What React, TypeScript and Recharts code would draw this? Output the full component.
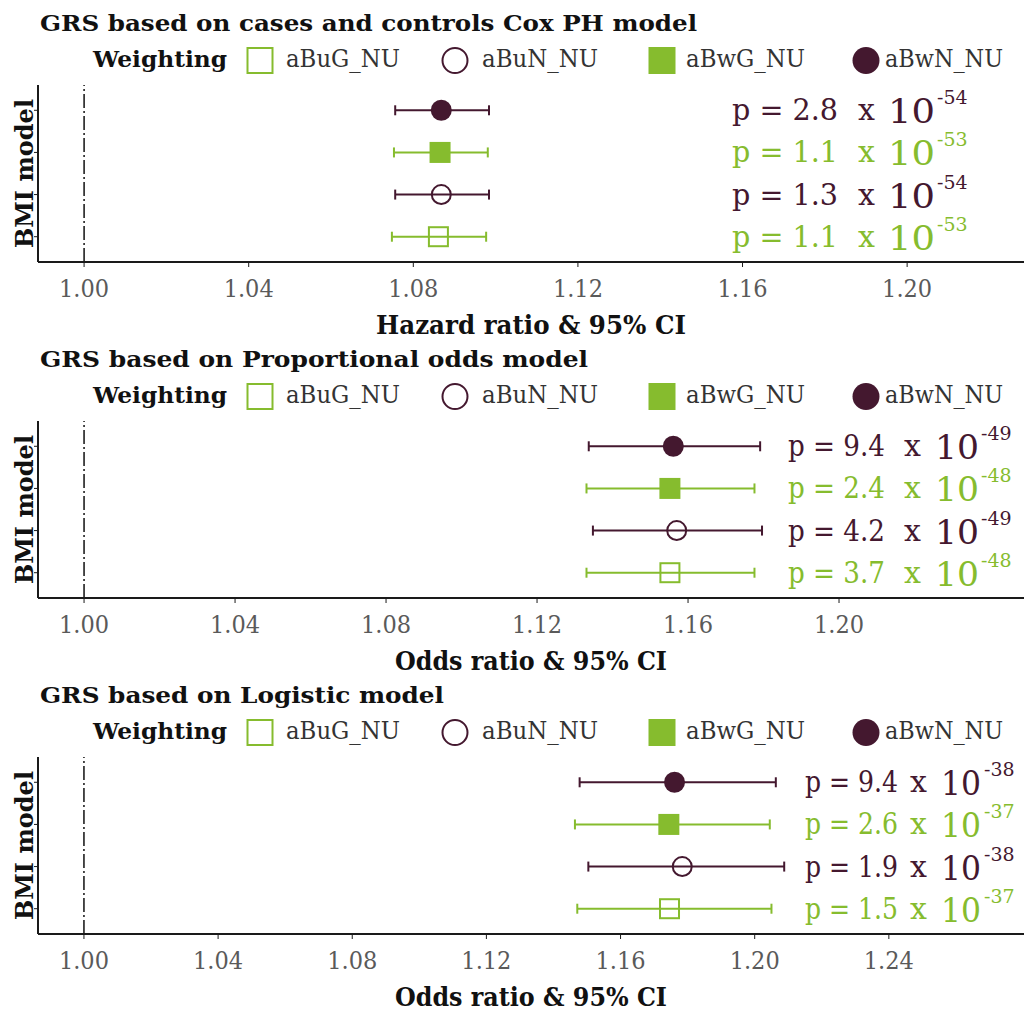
import React from 'react'
import {
  ScatterChart,
  Scatter,
  XAxis,
  YAxis,
  ErrorBar,
  ReferenceLine,
  Label,
} from 'recharts'

const PURPLE = '#44182f'
const GREEN = '#86bc2e'
const AXIS = '#1a1a1a'
const SERIF = "'DejaVu Serif', serif"
const SERIF_NARROW = "'DejaVu Serif Condensed', 'DejaVu Serif', serif"

// weighting schemes, bottom row first
const schemes = ['aBuG_NU', 'aBuN_NU', 'aBwG_NU', 'aBwN_NU']
const schemeColor = [GREEN, PURPLE, GREEN, PURPLE]
const schemeShape = ['square', 'circle', 'square', 'circle']
const schemeFilled = [false, false, true, true]

// GRS from the Cox PH model (hazard ratios)
const coxHr = [1.0861, 1.0868, 1.0865, 1.0868]
const coxLow = [1.0748, 1.0756, 1.0753, 1.0756]
const coxHigh = [1.0977, 1.0984, 1.0981, 1.0984]
const coxP = ['1.1', '1.3', '1.1', '2.8']
const coxExp = ['-53', '-54', '-53', '-54']
const coxTicks = [1.0, 1.04, 1.08, 1.12, 1.16, 1.2]

// GRS from the proportional odds model (odds ratios)
const poOr = [1.1552, 1.157, 1.1552, 1.1561]
const poLow = [1.1331, 1.1348, 1.1331, 1.1337]
const poHigh = [1.1776, 1.1796, 1.1776, 1.1791]
const poP = ['3.7', '4.2', '2.4', '9.4']
const poExp = ['-48', '-49', '-48', '-49']
const poTicks = [1.0, 1.04, 1.08, 1.12, 1.16, 1.2]

// GRS from the logistic model (odds ratios)
const logOr = [1.1746, 1.1784, 1.1744, 1.1761]
const logLow = [1.1471, 1.1504, 1.1464, 1.1478]
const logHigh = [1.205, 1.2088, 1.2045, 1.2063]
const logP = ['1.5', '1.9', '2.6', '9.4']
const logExp = ['-37', '-38', '-37', '-38']
const logTicks = [1.0, 1.04, 1.08, 1.12, 1.16, 1.2, 1.24]

type PanelDef = {
  title: string
  titleW: number
  axisTitle: string
  axisTitleW: number
  est: number[]
  low: number[]
  high: number[]
  p: string[]
  exp: string[]
  ticks: number[]
  domain: [number, number]
  // p-value text layout: start and width of "p = m", "x", start and width of "10", exponent
  pPos: number[]
}

const panels: PanelDef[] = [
  {
    title: 'GRS based on cases and controls Cox PH model',
    titleW: 657,
    axisTitle: 'Hazard ratio & 95% CI',
    axisTitleW: 310,
    est: coxHr, low: coxLow, high: coxHigh, p: coxP, exp: coxExp,
    ticks: coxTicks,
    domain: [0.9888, 1.2284],
    pPos: [732, 106, 858, 888, 47, 937],
  },
  {
    title: 'GRS based on Proportional odds model',
    titleW: 548,
    axisTitle: 'Odds ratio & 95% CI',
    axisTitleW: 272,
    est: poOr, low: poLow, high: poHigh, p: poP, exp: poExp,
    ticks: poTicks,
    domain: [0.9878, 1.249],
    pPos: [788, 97, 904, 935, 44, 981],
  },
  {
    title: 'GRS based on Logistic model',
    titleW: 404,
    axisTitle: 'Odds ratio & 95% CI',
    axisTitleW: 272,
    est: logOr, low: logLow, high: logHigh, p: logP, exp: logExp,
    ticks: logTicks,
    domain: [0.9863, 1.2803],
    pPos: [805, 93, 910, 941, 40, 984],
  },
]

const legendMarkX = [260, 455, 662, 866]
const legendTextX = [286, 482, 686, 885]
const legendTextW = [114, 116, 119, 118]

function Marker({ cx, cy, i, size }: { cx: number; cy: number; i: number; size: number }) {
  const c = schemeColor[i]
  const filled = schemeFilled[i]
  if (schemeShape[i] === 'circle') {
    return (
      <circle cx={cx} cy={cy} r={filled ? size / 2 : size / 2 - 1}
        fill={filled ? c : 'none'} stroke={c} strokeWidth={filled ? 0 : 2} />
    )
  }
  const s = filled ? size : size - 2
  return (
    <rect x={cx - s / 2} y={cy - s / 2} width={s} height={s}
      fill={filled ? c : 'none'} stroke={c} strokeWidth={filled ? 0 : 2} />
  )
}

function PValue({ cy, i, panel }: { cy: number; i: number; panel: PanelDef }) {
  const [px, pw, xx, tx, tw, sx] = panel.pPos
  return (
    <g fill={schemeColor[i]} fontFamily={SERIF}>
      <text x={px} y={cy + 10} fontSize={30} fontFamily={SERIF_NARROW}
        textLength={pw} lengthAdjust="spacingAndGlyphs">
        {`p = ${panel.p[i]}`}
      </text>
      <text x={xx} y={cy + 10} fontSize={30}>x</text>
      <text x={tx} y={cy + 13} fontSize={34} textLength={tw} lengthAdjust="spacingAndGlyphs">10</text>
      <text x={sx} y={cy - 6} fontSize={19}>{panel.exp[i]}</text>
    </g>
  )
}

function Panel({ panel }: { panel: PanelDef }) {
  const rows = schemes.map((name, i) => ({
    name,
    row: i + 1,
    est: panel.est[i],
    err: [panel.est[i] - panel.low[i], panel.high[i] - panel.est[i]],
  }))

  return (
    <div style={{ position: 'relative', width: 1024, height: 345 }}>
      <ScatterChart width={1024} height={345} margin={{ top: 85, right: 0, bottom: 9, left: 37 }}>
        <XAxis
          type="number"
          dataKey="est"
          domain={panel.domain}
          ticks={panel.ticks}
          allowDataOverflow
          height={74}
          tickFormatter={(v: number) => v.toFixed(2)}
          axisLine={{ stroke: AXIS, strokeWidth: 2 }}
          tickLine={{ stroke: AXIS, strokeWidth: 1 }}
          tickSize={5}
          tickMargin={12}
          tick={{ fill: '#5a5a5a', fontSize: 25, fontFamily: SERIF_NARROW }}
        >
          <Label
            content={(props: any) => {
              const vb = props.viewBox || {}
              const cx = vb.x + vb.width / 2
              return (
                <text x={cx - panel.axisTitleW / 2} y={vb.y + 72}
                  fontFamily={SERIF_NARROW} fontWeight="bold" fontSize={26} fill="#111"
                  textLength={panel.axisTitleW} lengthAdjust="spacingAndGlyphs">
                  {panel.axisTitle}
                </text>
              )
            }}
          />
        </XAxis>
        <YAxis
          type="number"
          dataKey="row"
          domain={[0.4, 4.6]}
          ticks={[1, 2, 3, 4]}
          width={1}
          tickFormatter={() => ''}
          tickSize={4}
          axisLine={{ stroke: AXIS, strokeWidth: 2 }}
          tickLine={{ stroke: AXIS, strokeWidth: 1 }}
        >
          <Label
            content={(props: any) => {
              const vb = props.viewBox || {}
              const bx = 33
              const cy = vb.y + vb.height / 2
              return (
                <text x={bx - 74.5} y={cy} transform={`rotate(-90, ${bx}, ${cy})`}
                  fontFamily={SERIF} fontWeight="bold" fontSize={25} fill="#111"
                  textLength={149} lengthAdjust="spacingAndGlyphs">
                  BMI model
                </text>
              )
            }}
          />
        </YAxis>
        <ReferenceLine x={1} stroke="#111" strokeWidth={1.5} strokeDasharray="14 3 2 3" />
        {rows.map((d, i) => (
          <Scatter
            key={d.name}
            name={d.name}
            data={[d]}
            isAnimationActive={false}
            shape={(props: any) => (
              <g>
                <Marker cx={props.cx} cy={props.cy} i={i} size={21} />
                <PValue cy={props.cy} i={i} panel={panel} />
              </g>
            )}
          >
            <ErrorBar dataKey="err" direction="x" width={5} stroke={schemeColor[i]} strokeWidth={2} />
          </Scatter>
        ))}
      </ScatterChart>
      <svg width={1024} height={90} style={{ position: 'absolute', left: 0, top: 0, pointerEvents: 'none' }}>
        <text x={40} y={31} fontFamily={SERIF} fontWeight="bold" fontSize={23} fill="#111"
          textLength={panel.titleW} lengthAdjust="spacingAndGlyphs">
          {panel.title}
        </text>
        <text x={93} y={67} fontFamily={SERIF} fontWeight="bold" fontSize={23} fill="#111"
          textLength={134} lengthAdjust="spacingAndGlyphs">
          Weighting
        </text>
        {schemes.map((name, i) => (
          <g key={name}>
            <Marker cx={legendMarkX[i]} cy={60.5} i={i} size={27} />
            <text x={legendTextX[i]} y={67} fontFamily={SERIF} fontSize={24} fill="#333"
              textLength={legendTextW[i]} lengthAdjust="spacingAndGlyphs">
              {name}
            </text>
          </g>
        ))}
      </svg>
    </div>
  )
}

export default function App() {
  return (
    <div style={{ position: 'absolute', left: 0, top: 0, width: 1024, height: 1011, overflow: 'hidden', background: '#fff' }}>
      {panels.map((panel, k) => (
        <div key={panel.title} style={{ position: 'absolute', left: 0, top: k * 336 }}>
          <Panel panel={panel} />
        </div>
      ))}
    </div>
  )
}
